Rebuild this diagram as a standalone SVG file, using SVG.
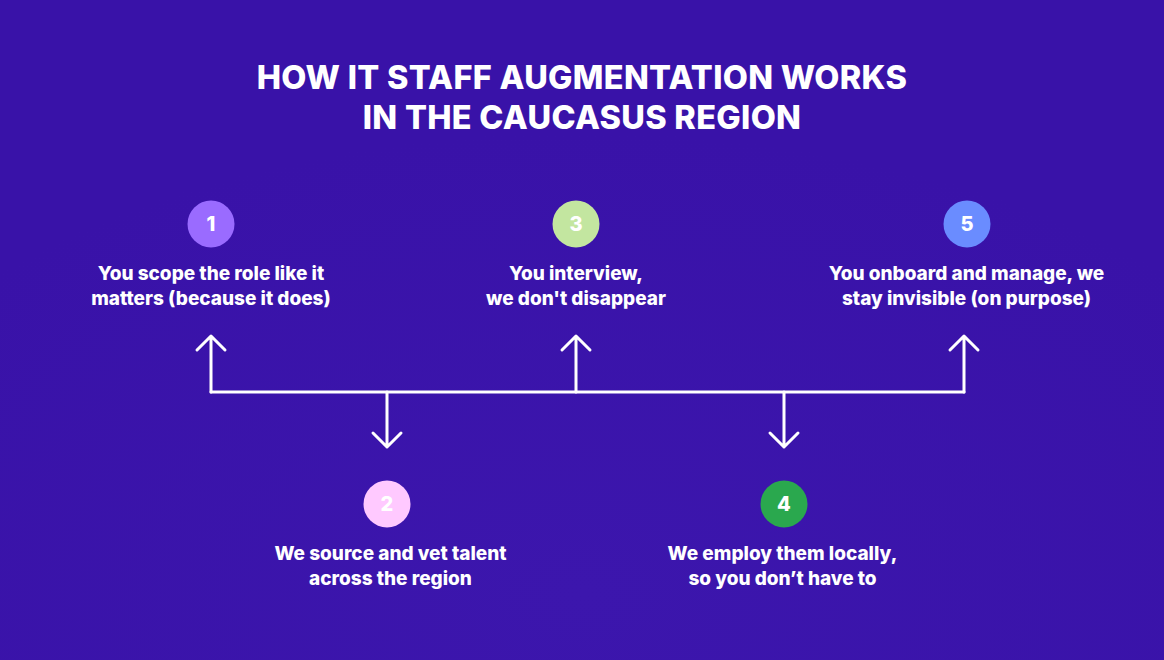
<svg xmlns="http://www.w3.org/2000/svg" width="1164" height="660" viewBox="0 0 1164 660">
<defs>
<style>
.title{font-family:Inter,"Liberation Sans",sans-serif;font-weight:800;font-size:32.5px;fill:#fff;text-anchor:middle;letter-spacing:0.3px}
.lbl{font-family:Inter,"Liberation Sans",sans-serif;font-weight:800;font-size:19px;fill:#fff;text-anchor:middle}
.num{font-family:Inter,"Liberation Sans",sans-serif;font-weight:800;font-size:20px;fill:#fff;text-anchor:middle}
.con{fill:none;stroke:#fff;stroke-width:3;stroke-linecap:round;stroke-linejoin:round}
</style>
<radialGradient id="bg" cx="0.5" cy="0.9" r="0.7">
<stop offset="0" stop-color="#3c16ad"/>
<stop offset="1" stop-color="#3912a8"/>
</radialGradient>
</defs>
<rect width="1164" height="660" fill="url(#bg)"/>
<g id="title">
<text class="title" x="582" y="89">HOW IT STAFF AUGMENTATION WORKS</text>
<text class="title" x="582" y="129">IN THE CAUCASUS REGION</text>
</g>
<g id="connectors">
<path class="con" d="M211 392 H964"/>
<path class="con" d="M211 392 V336 M197 350 L211 336 L225 350"/>
<path class="con" d="M576 392 V336 M562 350 L576 336 L590 350"/>
<path class="con" d="M964 392 V336 M950 350 L964 336 L978 350"/>
<path class="con" d="M387 392 V447 M373 433 L387 447 L401 433"/>
<path class="con" d="M784 392 V447 M770 433 L784 447 L798 433"/>
</g>
<g id="step1">
<circle cx="211" cy="224" r="23.5" fill="#9a6bff"/>
<text class="num" x="211" y="231">1</text>
<text class="lbl" x="211" y="280">You scope the role like it</text>
<text class="lbl" x="211" y="305">matters (because it does)</text>
</g>
<g id="step3">
<circle cx="576" cy="224" r="23.5" fill="#c3e6a0"/>
<text class="num" x="576" y="231">3</text>
<text class="lbl" x="576" y="280">You interview,</text>
<text class="lbl" x="576" y="305">we don't disappear</text>
</g>
<g id="step5">
<circle cx="967" cy="224" r="23.5" fill="#6a8cff"/>
<text class="num" x="967" y="231">5</text>
<text class="lbl" x="966.5" y="280">You onboard and manage, we</text>
<text class="lbl" x="966.5" y="305">stay invisible (on purpose)</text>
</g>
<g id="step2">
<circle cx="387" cy="504" r="23.5" fill="#ffc9ff"/>
<text class="num" x="387" y="511">2</text>
<text class="lbl" x="390.5" y="560">We source and vet talent</text>
<text class="lbl" x="390.5" y="585">across the region</text>
</g>
<g id="step4">
<circle cx="784" cy="504" r="23.5" fill="#2aa84e"/>
<text class="num" x="784" y="511">4</text>
<text class="lbl" x="782.5" y="560">We employ them locally,</text>
<text class="lbl" x="782.5" y="585">so you don’t have to</text>
</g>
</svg>
